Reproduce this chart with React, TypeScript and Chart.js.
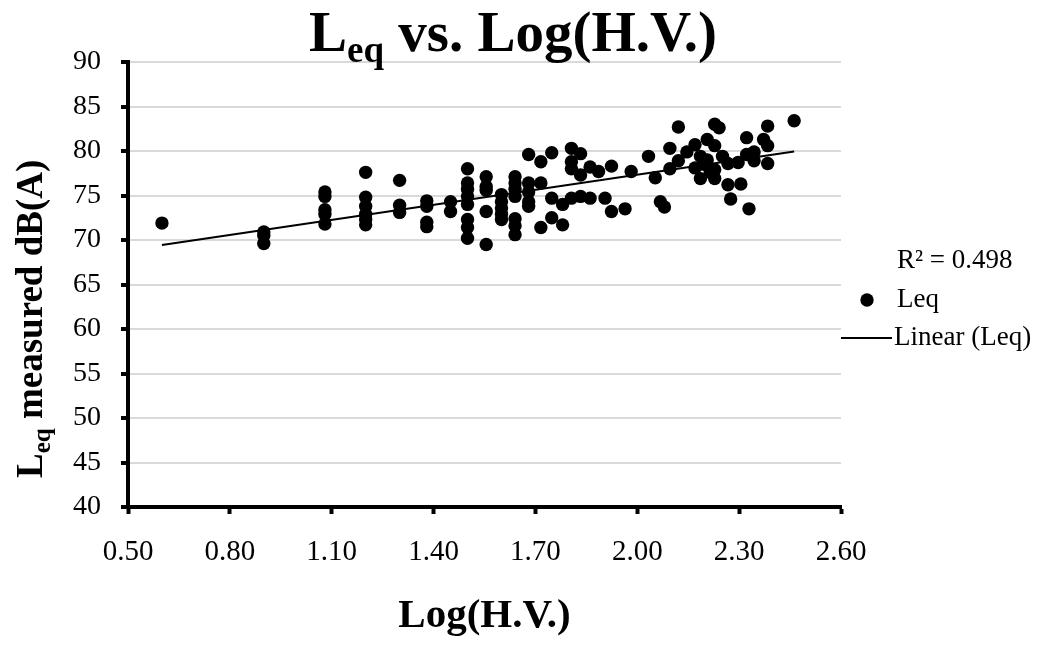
import React, { useEffect, useRef } from 'react';
import { Chart, registerables } from 'chart.js';

Chart.register(...registerables);

const FONT = '"Liberation Serif", "Times New Roman", serif';

const seriesName = 'Leq';
const trendName = 'Linear (Leq)';
const r2Label = 'R² = 0.498';
const chartTitleMain = 'L';
const chartTitleSub = 'eq';
const chartTitleRest = ' vs. Log(H.V.)';
const xAxisTitle = 'Log(H.V.)';
const yTitleMain = 'L';
const yTitleSub = 'eq';
const yTitleRest = ' measured dB(A)';

const xTickValues = [0.5, 0.8, 1.1, 1.4, 1.7, 2.0, 2.3, 2.6];
const yTickValues = [40, 45, 50, 55, 60, 65, 70, 75, 80, 85, 90];

const logHV = [
  0.60,
  0.90, 0.90, 0.90,
  1.08, 1.08, 1.08, 1.08, 1.08,
  1.20, 1.20, 1.20, 1.20, 1.20, 1.20,
  1.30, 1.30, 1.30,
  1.38, 1.38, 1.38, 1.38,
  1.45, 1.45,
  1.50, 1.50, 1.50, 1.50, 1.50, 1.50, 1.50, 1.50,
  1.555, 1.555, 1.555, 1.555, 1.555,
  1.60, 1.60, 1.60, 1.60, 1.60,
  1.64, 1.64, 1.64, 1.64, 1.64, 1.64, 1.64,
  1.68, 1.68, 1.68, 1.68, 1.68,
  1.716, 1.716, 1.716,
  1.748, 1.748, 1.748,
  1.78, 1.78,
  1.806, 1.806, 1.806, 1.806,
  1.833, 1.833, 1.833,
  1.861, 1.861,
  1.886,
  1.905,
  1.924, 1.924,
  1.964,
  1.982,
  2.033,
  2.053,
  2.068,
  2.08,
  2.096, 2.096,
  2.121, 2.121,
  2.146,
  2.17, 2.17,
  2.186, 2.186,
  2.196,
  2.206, 2.206,
  2.215,
  2.228, 2.228, 2.228, 2.228,
  2.241,
  2.251,
  2.267, 2.267,
  2.275,
  2.297,
  2.305,
  2.322, 2.322,
  2.329,
  2.344, 2.344,
  2.372,
  2.384, 2.384, 2.384,
  2.462,
];

const leqMeasured = [
  71.9,
  70.9, 70.5, 69.6,
  75.4, 74.9, 73.4, 72.9, 71.8,
  77.6, 74.8, 73.8, 72.9, 72.3, 71.7,
  76.7, 73.9, 73.1,
  74.4, 73.8, 72.0, 71.5,
  74.3, 73.2,
  78.0, 76.4, 75.7, 74.9, 74.0, 72.3, 71.4, 70.2,
  77.1, 76.0, 75.6, 73.2, 69.5,
  75.1, 74.3, 73.6, 72.9, 72.3,
  77.1, 76.4, 75.7, 74.9, 72.4, 71.6, 70.6,
  79.6, 76.4, 75.4, 74.3, 73.8,
  78.8, 76.4, 71.4,
  79.8, 74.7, 72.5,
  74.0, 71.7,
  80.3, 78.8, 78.0, 74.7,
  79.7, 77.3, 74.9,
  78.2, 74.7,
  77.7,
  74.7,
  78.3, 73.2,
  73.5,
  77.7,
  79.4,
  77.0,
  74.3,
  73.7,
  80.3, 78.0,
  82.7, 78.9,
  79.9,
  80.7, 78.1,
  79.4, 76.9,
  78.5,
  81.3, 79.0,
  77.6,
  83.0, 80.6, 77.9, 76.9,
  82.6,
  79.4,
  78.6, 76.2,
  74.6,
  78.7,
  76.3,
  81.5, 79.6,
  73.5,
  79.9, 78.9,
  81.3,
  82.8, 80.6, 78.6,
  83.4,
];

const trendX = [0.60, 2.462];
const trendY = [69.45, 79.95];

type Part = { text: string; size: number; dy: number };

function drawParts(ctx: CanvasRenderingContext2D, parts: Part[], x: number, y: number) {
  let cx = x;
  for (const p of parts) {
    ctx.font = `bold ${p.size}px ${FONT}`;
    ctx.fillText(p.text, cx, y + p.dy);
    cx += ctx.measureText(p.text).width;
  }
}

function partsWidth(ctx: CanvasRenderingContext2D, parts: Part[]) {
  let w = 0;
  for (const p of parts) {
    ctx.font = `bold ${p.size}px ${FONT}`;
    w += ctx.measureText(p.text).width;
  }
  return w;
}

const overlayPlugin = {
  id: 'overlayText',
  afterDraw(chart: any) {
    const ctx: CanvasRenderingContext2D = chart.ctx;
    ctx.save();
    ctx.fillStyle = '#000';
    ctx.strokeStyle = '#000';
    ctx.textBaseline = 'alphabetic';
    ctx.textAlign = 'left';

    // Chart title
    const titleParts: Part[] = [
      { text: chartTitleMain, size: 57, dy: 0 },
      { text: chartTitleSub, size: 37, dy: 11 },
      { text: chartTitleRest, size: 57, dy: 0 },
    ];
    const tw = partsWidth(ctx, titleParts);
    drawParts(ctx, titleParts, 513 - tw / 2, 51);

    // Y axis title (rotated)
    const yParts: Part[] = [
      { text: yTitleMain, size: 37, dy: 0 },
      { text: yTitleSub, size: 25, dy: 8 },
      { text: yTitleRest, size: 37, dy: 0 },
    ];
    const area = chart.chartArea;
    ctx.save();
    ctx.translate(42, 478);
    ctx.rotate(-Math.PI / 2);
    drawParts(ctx, yParts, 0, 0);
    ctx.restore();

    // Legend
    const scatterDs = chart.data.datasets[0];
    const lineDs = chart.data.datasets[1];
    ctx.font = `27px ${FONT}`;
    ctx.textBaseline = 'middle';
    ctx.fillText(r2Label, 897, 261);
    ctx.beginPath();
    ctx.arc(867, 300, scatterDs.pointRadius, 0, Math.PI * 2);
    ctx.fillStyle = scatterDs.backgroundColor;
    ctx.fill();
    ctx.fillStyle = '#000';
    ctx.fillText(scatterDs.label, 897, 300);
    ctx.beginPath();
    ctx.lineWidth = lineDs.borderWidth;
    ctx.moveTo(area.right, 338);
    ctx.lineTo(892, 338);
    ctx.stroke();
    ctx.fillText(lineDs.label, 894, 338);
    ctx.restore();
  },
};

export default function App() {
  const canvasRef = useRef<HTMLCanvasElement | null>(null);

  useEffect(() => {
    const canvas = canvasRef.current;
    if (!canvas) return;
    const chart = new Chart(canvas, {
      type: 'scatter',
      data: {
        datasets: [
          {
            label: seriesName,
            data: logHV.map((x, i) => ({ x, y: leqMeasured[i] })),
            backgroundColor: '#000000',
            borderColor: '#000000',
            borderWidth: 0,
            pointRadius: 6.7,
            pointHoverRadius: 6.7,
          } as any,
          {
            label: trendName,
            data: trendX.map((x, i) => ({ x, y: trendY[i] })),
            showLine: true,
            borderColor: '#000000',
            backgroundColor: '#000000',
            borderWidth: 2,
            pointRadius: 0,
            fill: false,
          } as any,
        ],
      },
      options: {
        responsive: false,
        animation: false,
        devicePixelRatio: 1,
        layout: { padding: { top: 62, right: 197, left: 0, bottom: 0 } },
        plugins: {
          legend: { display: false },
          title: { display: false },
          tooltip: { enabled: false },
        },
        scales: {
          x: {
            type: 'linear',
            min: 0.5,
            max: 2.6,
            afterBuildTicks: (s: any) => {
              s.ticks = xTickValues.map((v) => ({ value: v }));
            },
            afterFit: (s: any) => {
              s.height = 138;
            },
            ticks: {
              callback: (v: any) => Number(v).toFixed(2),
              font: { family: FONT, size: 29 },
              color: '#000',
              padding: 21,
              maxRotation: 0,
              autoSkip: false,
            },
            grid: {
              drawOnChartArea: false,
              drawTicks: true,
              tickLength: 7,
              tickWidth: 4,
              tickColor: '#000',
            },
            border: { display: true, color: '#000', width: 4 },
            title: {
              display: true,
              text: xAxisTitle,
              color: '#000',
              font: { family: FONT, size: 41, weight: 'bold' },
              padding: { top: 0, bottom: 4 },
            },
          },
          y: {
            type: 'linear',
            min: 40,
            max: 90,
            afterBuildTicks: (s: any) => {
              s.ticks = yTickValues.map((v) => ({ value: v }));
            },
            afterFit: (s: any) => {
              s.width = 128;
            },
            ticks: {
              font: { family: FONT, size: 28 },
              color: '#000',
              padding: 20,
              autoSkip: false,
            },
            grid: {
              color: '#d9d9d9',
              lineWidth: 2,
              drawTicks: true,
              tickLength: 7,
              tickWidth: 4,
              tickColor: '#000',
            },
            border: { display: true, color: '#000', width: 4 },
          },
        },
      } as any,
      plugins: [overlayPlugin],
    });
    return () => {
      chart.destroy();
    };
  }, []);

  return (
    <div style={{ position: 'fixed', left: 0, top: 0, width: 1038, height: 645, background: '#fff' }}>
      <canvas ref={canvasRef} width={1038} height={645} style={{ display: 'block' }} />
    </div>
  );
}
